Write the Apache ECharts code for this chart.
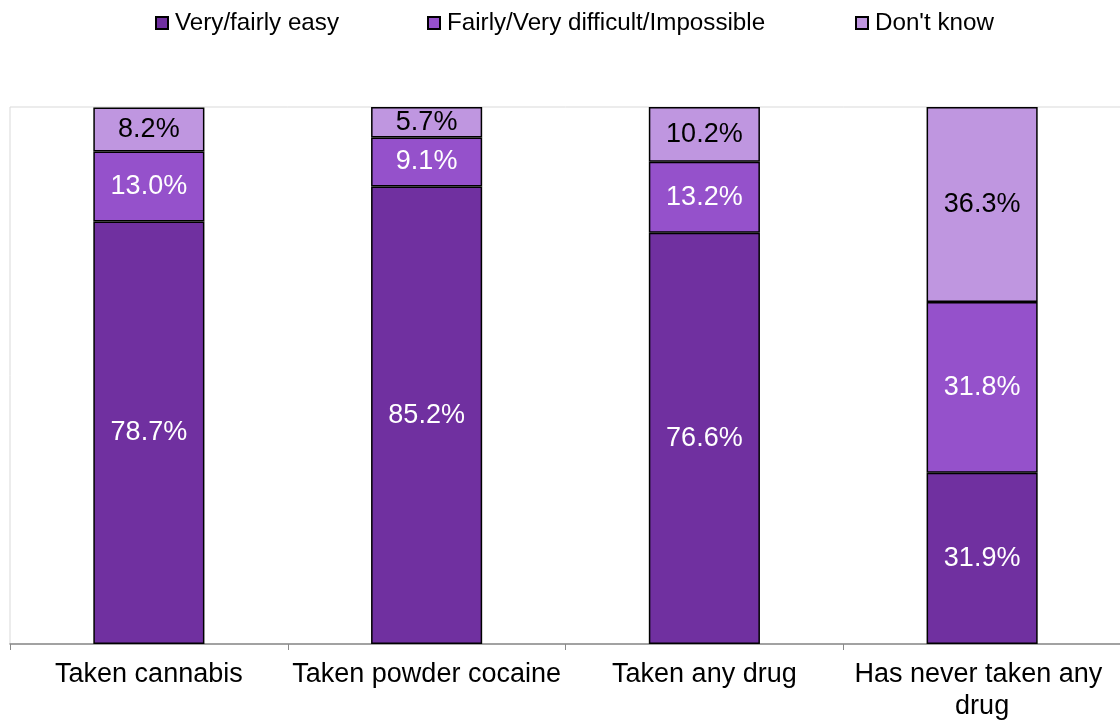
<!DOCTYPE html>
<html>
<head>
<meta charset="utf-8">
<script src="https://cdn.jsdelivr.net/npm/echarts@6/dist/echarts.min.js"></script>
<style>
html,body{margin:0;padding:0;background:#fff;}
#c{width:1120px;height:722px;}
</style>
</head>
<body>
<div id="c"></div>
<script>
const categories = ['Taken cannabis', 'Taken powder cocaine', 'Taken any drug', 'Has never taken any drug'];
const seriesNames = ['Very/fairly easy', 'Fairly/Very difficult/Impossible', "Don't know"];
const easy = [78.7, 85.2, 76.6, 31.9];
const difficult = [13.0, 9.1, 13.2, 31.8];
const dontKnow = [8.2, 5.7, 10.2, 36.3];

const colors = ['#7030A0', '#9551CB', '#BF96E0'];
const labelColors = ['#ffffff', '#ffffff', '#000000'];
const values = [easy, difficult, dontKnow];
const legendLefts = [150, 422, 850];
const FONT = '"Liberation Sans", Arial, sans-serif';

const chart = echarts.init(document.getElementById('c'));
chart.setOption({
  animation: false,
  backgroundColor: '#fff',
  textStyle: { fontFamily: FONT },
  legend: seriesNames.map((n, i) => ({
    top: 6,
    left: legendLefts[i],
    itemWidth: 12,
    itemHeight: 12,
    icon: 'rect',
    textStyle: { fontSize: 24.2, color: '#000', fontFamily: FONT, padding: [0, 0, 0, 2] },
    data: [n]
  })),
  grid: {
    left: 10, right: -1, top: 107, bottom: 78,
    containLabel: false,
    outerBoundsMode: 'none',
    show: true, borderColor: '#d9d9d9', borderWidth: 1
  },
  xAxis: {
    type: 'category',
    data: categories,
    axisLine: { lineStyle: { color: '#898989', width: 1.5 } },
    axisTick: { show: true, length: 6, lineStyle: { color: '#898989' } },
    axisLabel: {
      fontSize: 27, color: '#000', fontFamily: FONT,
      margin: 15, lineHeight: 32, width: 290, overflow: 'break', interval: 0
    }
  },
  yAxis: {
    type: 'value', min: 0, max: 100, show: false,
    splitLine: { show: false }
  },
  series: seriesNames.map((name, i) => ({
    name: name,
    type: 'bar',
    stack: 'total',
    barWidth: '40%',
    data: values[i],
    itemStyle: { color: colors[i], borderColor: '#000', borderWidth: 1.5 },
    label: {
      show: true,
      position: 'inside',
      fontSize: 27,
      fontFamily: FONT,
      color: labelColors[i],
      formatter: p => p.value.toFixed(1) + '%'
    }
  }))
});
</script>
</body>
</html>
